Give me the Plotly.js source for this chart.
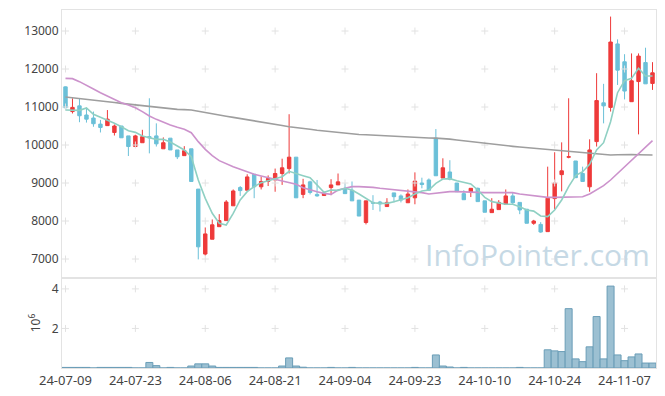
<!DOCTYPE html>
<html><head><meta charset="utf-8">
<script src="https://cdn.plot.ly/plotly-3.0.1.min.js"></script>
<style>html,body{margin:0;padding:0;background:#fff}#chart{width:665px;height:396px}</style>
</head><body><div id="chart"></div>
<script>
const dates = ['24-07-09','24-07-10','24-07-11','24-07-12','24-07-15','24-07-16','24-07-17','24-07-18','24-07-19','24-07-22',
'24-07-23','24-07-24','24-07-25','24-07-26','24-07-29','24-07-30','24-07-31','24-08-01','24-08-02','24-08-05',
'24-08-06','24-08-07','24-08-08','24-08-09','24-08-12','24-08-13','24-08-14','24-08-16','24-08-19','24-08-20',
'24-08-21','24-08-22','24-08-23','24-08-26','24-08-27','24-08-28','24-08-29','24-08-30','24-09-02','24-09-03',
'24-09-04','24-09-05','24-09-06','24-09-09','24-09-10','24-09-11','24-09-12','24-09-13','24-09-19','24-09-20',
'24-09-23','24-09-24','24-09-25','24-09-26','24-09-27','24-09-30','24-10-02','24-10-04','24-10-07','24-10-08',
'24-10-10','24-10-11','24-10-14','24-10-15','24-10-16','24-10-17','24-10-18','24-10-21','24-10-22','24-10-23',
'24-10-24','24-10-25','24-10-28','24-10-29','24-10-30','24-10-31','24-11-01','24-11-04','24-11-05','24-11-06',
'24-11-07','24-11-08','24-11-11','24-11-12','24-11-13'];

const openP = [11530,10880,11030,10790,10710,10550,10510,10330,10500,10240,
9960,10060,10220,10240,9900,10180,9870,9720,9900,8840,
7130,7520,7850,8010,8400,8880,8810,9230,8900,9040,
9080,9250,9380,9680,8700,9030,8700,8670,8880,8950,
8840,8810,8550,7960,8490,8500,8380,8740,8660,8480,
8610,9000,9080,10180,9130,9290,9000,8720,8760,8860,
8530,8220,8300,8440,8660,8490,8310,7940,7910,7720,
8590,9220,9680,9580,9250,8900,10090,11110,10990,12660,
12190,11140,11670,12170,11620];
const highP = [11540,11230,11230,10980,10880,10660,10920,10540,10500,10240,
10270,10400,11230,10570,10200,10180,9870,9970,9900,8840,
7830,8040,8180,8550,8830,8920,9230,9230,9170,9200,
9380,9640,10810,9680,9110,9060,9080,8770,9100,9250,
8990,9040,8550,8530,8680,8530,8600,8740,8700,8830,
9280,9140,9120,10420,9650,9600,9000,8810,8860,8880,
8530,8600,8550,8830,8750,8490,8310,8030,7970,9430,
9810,10070,11230,9580,9430,10150,11890,11610,13380,12780,
12390,12410,12410,12560,12180];
const lowP = [10970,10830,10600,10590,10480,10330,10500,10250,10190,9710,
9960,10060,9780,9960,9900,9870,9630,9720,9040,6990,
7090,7520,7850,8010,8400,8660,8810,8600,8830,8920,
8770,8950,9250,8610,8600,8700,8640,8670,8680,8950,
8720,8530,8130,7910,8290,8250,8380,8490,8490,8480,
8440,8860,8810,9190,9130,9070,8770,8560,8630,8510,
8230,8220,8300,8420,8450,8180,7940,7900,7690,7720,
8310,8780,9650,9140,9040,8770,9960,10570,10880,11580,
11200,11140,10280,11610,11450];
const closeP = [10980,10990,10770,10680,10560,10460,10680,10500,10190,9960,
10240,10220,10190,10030,10060,9870,9690,9850,9040,7320,
7660,7900,8010,8500,8790,8800,9160,8900,9040,9120,
9250,9400,9680,8610,8950,8750,8660,8730,8950,9030,
8720,8530,8130,8530,8470,8450,8490,8640,8550,8710,
9050,8960,8810,9190,9400,9100,8770,8560,8860,8510,
8230,8310,8490,8660,8480,8290,7940,8000,7710,8600,
9000,9320,9690,9140,9040,9870,11170,11030,12710,11970,
11420,11690,12340,11610,11900];

const volume = [30000,30000,30000,30000,0,30000,30000,30000,30000,30000,
0,0,280000,120000,0,30000,0,0,100000,210000,
210000,100000,30000,30000,30000,30000,30000,30000,0,0,
0,100000,510000,100000,40000,0,0,0,30000,0,
0,30000,0,0,0,0,0,0,0,0,
30000,0,0,660000,100000,50000,0,30000,0,0,
0,0,0,0,0,30000,0,0,0,920000,
865000,830000,3000000,460000,320000,1070000,2600000,460000,4140000,660000,
370000,560000,710000,250000,250000];

const ma5 = [10921,10912,10912,10974,10807,10728,10658,10570,10482,10377,
10333,10237,10193,10149,10149,10079,9974,9868,9693,9079,
8596,8202,7939,7895,8202,8553,8772,8904,9009,9061,
9123,9167,9307,9240,9193,9140,8947,8754,8816,8807,
8860,8816,8711,8596,8482,8465,8465,8509,8553,8614,
8711,8789,8816,8991,9105,9114,9061,9017,8974,8816,
8623,8509,8465,8439,8439,8377,8289,8260,8132,8114,
8289,8553,8904,9193,9298,9491,9868,10061,10614,11377,
11693,11754,12018,11816,11816];
const ma20 = [11754,11746,11667,11579,11474,11377,11289,11184,11114,11053,
10982,10877,10763,10675,10596,10526,10465,10412,10325,10088,
9886,9719,9588,9500,9430,9360,9289,9228,9184,9140,
9096,9035,8991,8965,8877,8816,8772,8728,8702,8816,
8860,8904,8904,8904,8886,8860,8842,8816,8798,8789,
8772,8746,8711,8737,8754,8772,8772,8772,8763,8754,
8746,8746,8746,8754,8746,8711,8684,8667,8640,8623,
8623,8623,8623,8640,8640,8711,8816,8930,9079,9254,
9412,9588,9781,9930,10114];
const ma120 = [11263,11245,11225,11205,11184,11162,11140,11118,11096,11075,
11053,11031,11009,10990,10972,10955,10939,10932,10921,10888,
10851,10820,10790,10758,10728,10700,10670,10642,10614,10580,
10545,10512,10482,10465,10440,10415,10390,10368,10348,10328,
10308,10289,10278,10268,10257,10246,10236,10225,10214,10203,
10195,10190,10185,10180,10175,10155,10133,10110,10088,10066,
10044,10022,10000,9982,9965,9947,9930,9910,9895,9880,
9865,9851,9833,9815,9798,9781,9760,9745,9737,9742,
9750,9748,9745,9740,9737];

const priceTicks = [7000,8000,9000,10000,11000,12000,13000];
const volTicks = [2000000,4000000];
const volTickText = ['2','4'];
const xTickStep = 10;

const xTickCats = dates.filter((d,i)=> i % xTickStep === 0);
function crosses(yvals, xa, ya){
  const xs=[], ys=[];
  xTickCats.forEach(c=>yvals.forEach(v=>{xs.push(c); ys.push(v);}));
  return {type:'scatter', mode:'markers', x:xs, y:ys, xaxis:xa, yaxis:ya,
    marker:{symbol:'cross-thin', size:5, color:'#e2e2e2', line:{color:'#e2e2e2', width:1}},
    hoverinfo:'skip', showlegend:false};
}

const upColor = '#ee3a3a', downColor = '#6bc0d8';
const traces = [
  crosses(priceTicks,'x','y'),
  crosses(volTicks,'x2','y2'),
  {type:'scatter', mode:'lines', x:dates, y:ma120, xaxis:'x', yaxis:'y', line:{color:'#9e9e9e', width:1.6}, hoverinfo:'skip', showlegend:false},
  {type:'scatter', mode:'lines', x:dates, y:ma20, xaxis:'x', yaxis:'y', line:{color:'#cc92cc', width:1.6}, hoverinfo:'skip', showlegend:false},
  {type:'scatter', mode:'lines', x:dates, y:ma5, xaxis:'x', yaxis:'y', line:{color:'#8fd0c3', width:1.6}, hoverinfo:'skip', showlegend:false},
  {type:'candlestick', x:dates, open:openP, high:highP, low:lowP, close:closeP, xaxis:'x', yaxis:'y',
    increasing:{line:{color:upColor, width:1}, fillcolor:upColor},
    decreasing:{line:{color:downColor, width:1}, fillcolor:downColor},
    whiskerwidth:0, showlegend:false},
  {type:'bar', x:dates, y:volume, xaxis:'x2', yaxis:'y2',
    marker:{color:'#9cc0d2', line:{color:'#6a9db7', width:1}}, showlegend:false}
];

const tickFont = {family:'Noto Sans, Open Sans, sans-serif', size:12, color:'#444'};
const xTickFont = {family:'Noto Sans, Open Sans, sans-serif', size:13, color:'#444'};
const dom = 0.2514;
const layout = {
  width:665, height:396,
  margin:{l:62, r:9, t:10, b:28},
  paper_bgcolor:'#fff', plot_bgcolor:'#fff',
  showlegend:false, bargap:0,
  xaxis:{type:'category', categoryarray:dates, range:[-0.5, dates.length-0.5], anchor:'y', domain:[0,1],
    showticklabels:false, showgrid:false, zeroline:false, showline:true, mirror:true, linecolor:'#e3e3e3', linewidth:1,
    rangeslider:{visible:false}, ticks:''},
  xaxis2:{type:'category', categoryarray:dates, range:[-0.5, dates.length-0.5], anchor:'y2', domain:[0,1], matches:'x',
    tickmode:'linear', tick0:0, dtick:xTickStep, showgrid:false, zeroline:false, showline:true, mirror:true,
    linecolor:'#e3e3e3', linewidth:1, ticks:'', tickfont:xTickFont, tickangle:0},
  yaxis:{domain:[dom,1], range:[6500,13553], tickmode:'array', tickvals:priceTicks, showgrid:false, zeroline:false,
    showline:true, mirror:true, linecolor:'#e3e3e3', linewidth:1, ticks:'', tickfont:tickFont, tickformat:'d'},
  yaxis2:{domain:[0,dom], range:[0,4550000], tickmode:'array', tickvals:volTicks, ticktext:volTickText, showgrid:false,
    zeroline:false, showline:true, mirror:true, linecolor:'#e3e3e3', linewidth:1, ticks:'', tickfont:tickFont,
    title:{text:'10<sup>6</sup>', font:{family:'Noto Sans, Open Sans, sans-serif', size:12, color:'#444'}, standoff:8}},
  annotations:[{text:'InfoPointer.com', xref:'paper', yref:'paper', x:0.8, y:0.318, xanchor:'center', yanchor:'middle',
    showarrow:false, font:{family:'Open Sans, sans-serif', size:30, color:'#c6d9e5'}}]
};
Plotly.newPlot('chart', traces, layout, {staticPlot:true, displayModeBar:false});
</script></body></html>
